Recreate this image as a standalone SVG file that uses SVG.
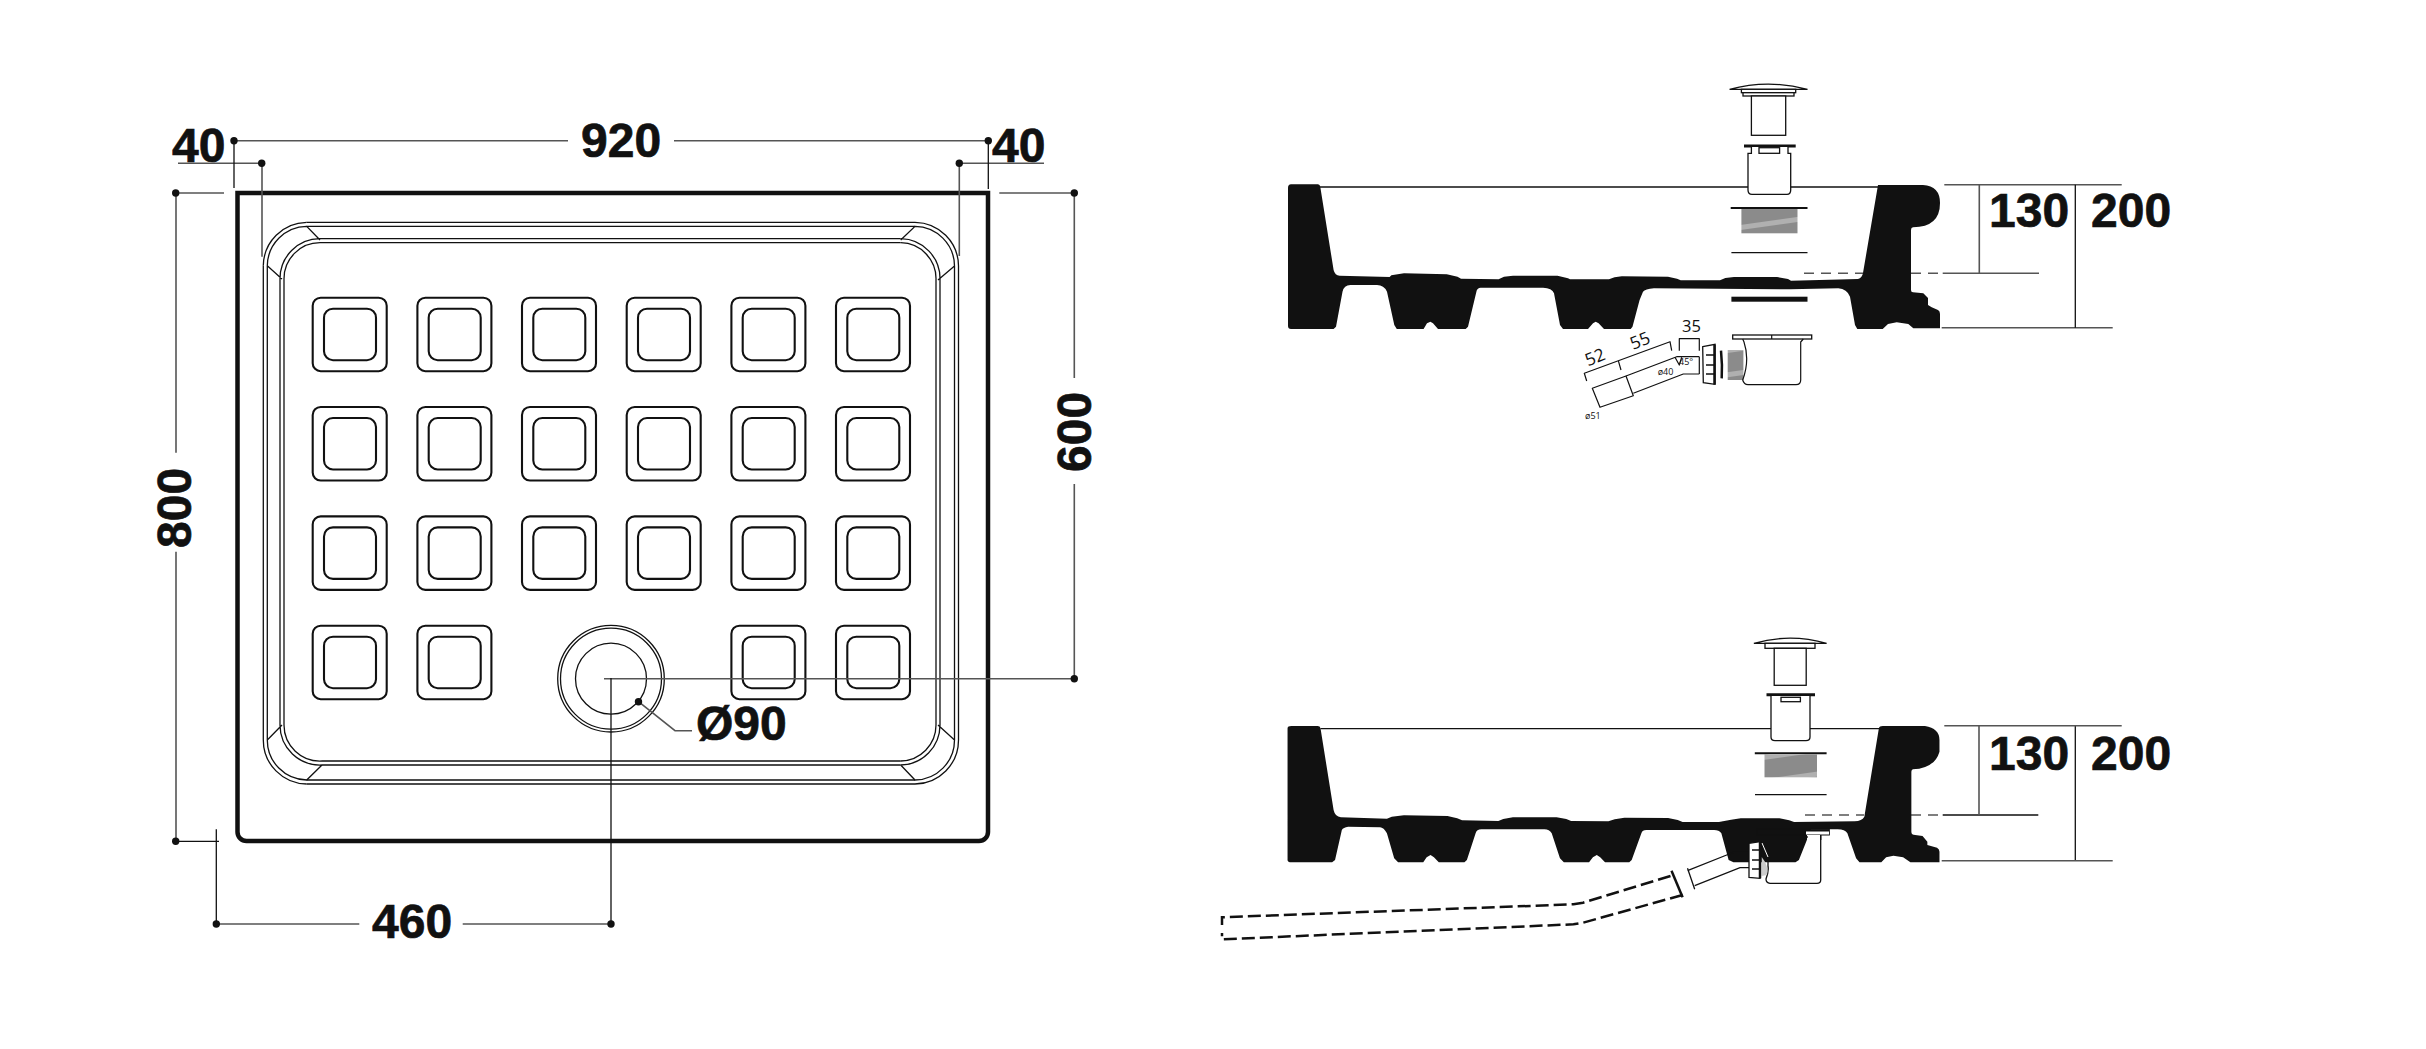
<svg xmlns="http://www.w3.org/2000/svg" width="2426" height="1049" viewBox="0 0 2426 1049">
<style>
.t{font-family:"Liberation Sans",Arial,sans-serif;font-weight:700;font-size:48px;fill:#111;stroke:#111;stroke-width:.7}
.s{font-family:"Open Sans","Liberation Sans",sans-serif;fill:#111}
.d{fill:none;stroke:#555;stroke-width:1.6}
.k{fill:none;stroke:#111;stroke-width:1.3}
.m{fill:none;stroke:#111;stroke-width:1.2;stroke-linejoin:round}
.w{fill:#fff;stroke:#111;stroke-width:1.3}
.b{fill:#111}
.h{fill:url(#hatch)}
.dash{fill:none;stroke:#111;stroke-width:2.5;stroke-dasharray:13 5}
.o{fill:none;stroke:#111;stroke-width:2.1}
.t3{stroke-width:3}
.t2{stroke-width:2}
.t25{stroke-width:2.500}
</style>
<defs>
<pattern id="hatch" width="46" height="24" patternUnits="userSpaceOnUse" patternTransform="rotate(-8)">
<rect width="46" height="24" fill="#8b8b8b"/><rect y="9" width="46" height="5" fill="#b0b0b0"/>
</pattern>
<g id="cell"><rect class="o" x="0" y="0" width="74" height="73.5" rx="8"/><rect class="o" x="11.3" y="11" width="52" height="51.500" rx="9"/></g>
<circle id="dot" r="3.700" fill="#111"/>
</defs>

<g id="plan">
<path d="M237.500 193H988V832a9 9 0 0 1-9 9H246.500a9 9 0 0 1-9-9Z" fill="none" stroke="#111" stroke-width="4.500"/>
<g id="channel">
<path class="k" d="M306.700 222.300H915M306.700 226.300H915M320 238.700H900.700M320 242.700H900.700"/>
<path class="k" d="M263.300 265.700V740M267.300 265.700V740M280 279V725M284 279V725"/>
<path class="k" d="M958.500 266V740M954.500 266V740M940 280V725M936 280V725"/>
<path class="k" d="M306.700 780H915M306.700 784H915M322 761H900.700M322 765H900.700"/>
<path class="k" d="M263.300 265.700A44 44 0 0 1 306.700 222.300M267.300 265.700A40 40 0 0 1 306.700 226.300L320 240M280 279A40 40 0 0 1 320 238.700M284 279A36 36 0 0 1 320 242.700M267.300 265.700L282 279"/>
<path class="k" d="M958.500 266A44 44 0 0 0 915 222.300M954.500 266A40 40 0 0 0 915 226.300L900.700 240M940 280A40 40 0 0 0 900.700 238.700M936 280A36 36 0 0 0 900.700 242.700M954.500 266L938 280"/>
<path class="k" d="M263.300 740A44 44 0 0 0 306.700 784M267.300 740A40 40 0 0 0 306.700 780L322 765M280 725A40 40 0 0 0 322 765M284 725A36 36 0 0 0 322 761M267.300 740L282 725"/>
<path class="k" d="M958.500 740A44 44 0 0 1 915 784M954.500 740A40 40 0 0 1 915 780L900.700 765M940 725A40 40 0 0 1 900.700 765M936 725A36 36 0 0 1 900.700 761M954.500 740L938 725"/>
</g>
<g id="cells">
<use href="#cell" x="312.700" y="297.700"/><use href="#cell" x="417.400" y="297.700"/><use href="#cell" x="522" y="297.700"/><use href="#cell" x="626.700" y="297.700"/><use href="#cell" x="731.400" y="297.700"/><use href="#cell" x="836" y="297.700"/>
<use href="#cell" x="312.700" y="407"/><use href="#cell" x="417.400" y="407"/><use href="#cell" x="522" y="407"/><use href="#cell" x="626.700" y="407"/><use href="#cell" x="731.400" y="407"/><use href="#cell" x="836" y="407"/>
<use href="#cell" x="312.700" y="516.400"/><use href="#cell" x="417.400" y="516.400"/><use href="#cell" x="522" y="516.400"/><use href="#cell" x="626.700" y="516.400"/><use href="#cell" x="731.400" y="516.400"/><use href="#cell" x="836" y="516.400"/>
<use href="#cell" x="312.700" y="625.700"/><use href="#cell" x="417.400" y="625.700"/><use href="#cell" x="731.400" y="625.700"/><use href="#cell" x="836" y="625.700"/>
</g>
<g id="drain"><circle class="k" cx="611" cy="678.700" r="53.300"/><circle class="k" cx="611" cy="678.700" r="50.500"/><circle class="k" cx="611" cy="678.700" r="35.500"/></g>
</g>

<g id="connectors">
<path class="d" d="M234 140.700H568M674 140.700H988.300M178 163.300H262M262 163.300V256.700M176 193H224M176 193V452.700M176 551.700V841.300M999.300 193H1074.300M959.300 163.300V256M959.300 163.300H1044M216.300 924H359.300M462.700 924H611M604 678.700H1074.300M1074.300 193V378M1074.300 484V678.700M638.500 701.700L675 730.700H692"/>
<path class="k" d="M234 141V188M988.300 141V189M176 841.300H219M216.300 829.300V924M611 678V924"/>
<use href="#dot" x="234" y="140.700"/><use href="#dot" x="261.700" y="163.300"/><use href="#dot" x="959.300" y="163.300"/><use href="#dot" x="988.300" y="140.700"/><use href="#dot" x="175.700" y="193"/><use href="#dot" x="175.700" y="841.300"/><use href="#dot" x="216.300" y="924"/><use href="#dot" x="611" y="924"/><use href="#dot" x="1074.300" y="678.700"/><use href="#dot" x="1074.300" y="193"/><use href="#dot" x="638.500" y="701.700"/>
<path class="d" d="M1944.300 184.700H2121.700M1979.300 184.700V273.300M1941.700 327.700H2112.700M1942.700 273.300H2039"/>
<path class="k" d="M2075.300 184.700V327.700M2075.300 725.700V860.700M1942.700 815H2038.300"/>
<path class="d" d="M1944.300 725.700H2121.700M1979 725.700V815M1941.700 860.700H2112.700"/>
<path class="d" d="M1804 273.300H1863M1911 273.300H1942M1805 815H1864M1911 815H1942" stroke-dasharray="10 7"/>
</g>

<g id="labels">
<text class="t" x="172" y="162">40</text><text class="t" x="581" y="157">920</text><text class="t" x="992" y="162">40</text>
<text class="t" transform="translate(191,548) rotate(-90)">800</text><text class="t" transform="translate(1091,472) rotate(-90)">600</text>
<text class="t" x="372" y="937.500">460</text><text class="t" x="696" y="740">Ø90</text>
<text class="t" x="1989" y="227">130</text><text class="t" x="2091" y="227">200</text><text class="t" x="1989" y="769.500">130</text><text class="t" x="2091" y="769.500">200</text>
</g>

<g id="section-upper">
<path class="b" d="M1288 188Q1288 184.300 1291 184.300H1318Q1320 184.300 1320.300 187L1333.600 270Q1335 275.700 1339.600 275.700L1389.600 277L1391.400 275.300L1404 273.300L1446.800 274.300L1457.500 276.700L1461 278.700L1498.600 279.300L1504 276.700L1513 275.700H1557.500L1568 278.300L1570 279.300H1609L1614.600 277.300L1621.800 276.300L1668 276.700L1677 278.700L1680.700 280.300H1720L1725.400 278L1734 277H1777L1788 279L1791 280.700L1858 279Q1862 278 1863 273L1878 185H1923Q1940 186 1940 203Q1940 227 1913 227.300Q1911 227.500 1911 230V290Q1911 292.300 1913 292.300L1923.300 293.300L1928 298V305L1931.700 307.300L1938 310Q1940 311 1940 314V328.300H1913.300L1908.300 324L1896.700 322.300L1888 324L1882.700 329H1857.300L1855 325L1850 296.700Q1847 289 1838.300 288.300L1790 289.300L1654 288.300Q1645 289 1643 291.700L1639.600 300L1632.500 326.700L1630.700 329H1604L1598.600 323.300L1595.700 321.700L1593 323.300L1588 329H1563L1560 325L1554 293.300Q1552 288 1543 287.700H1480.700Q1477 288 1476.400 291.700L1468 326.700L1465.700 329H1438L1433 323.300L1430.400 321.700L1427 323.300L1423.600 329H1396.800L1394.300 325L1387 291.700Q1384 285 1377 285H1350.400Q1344 285 1342.500 291.700L1336 326.700L1333.600 329H1291Q1288 329 1288 326Z"/>
<path class="k" d="M1320 187H1878"/>
<g id="drain-upper">
<path class="w" d="M1729.600 89.300Q1768 79 1807.500 89.300Z"/>
<rect class="w" x="1741.400" y="89.300" width="54.300" height="3.400"/><rect class="w" x="1743" y="92.700" width="51" height="3.300"/>
<rect class="w" x="1751.400" y="96" width="34.300" height="39.300"/>
<path class="k t3" d="M1744 146H1795.700"/>
<path class="w" d="M1751.400 147V153.300H1748V190Q1748 194.300 1752 194.300H1787Q1790.700 194.300 1790.700 190V153.300H1788V147"/>
<rect class="w" x="1759" y="147.700" width="20.600" height="5.600"/>
<path class="k t2" d="M1730.700 208H1807.500"/>
<rect class="h" x="1741.400" y="209" width="56.100" height="24.300"/>
<path class="k" d="M1731.400 252.700H1807.500"/>
<rect class="b" x="1731.400" y="296.700" width="76.100" height="5"/>
<g id="exploded">
<path class="m" d="M1679.300 350.700V338.700H1699.300V350.700"/>
<path class="m" d="M1586.700 381L1584.300 373.300L1618.300 360.700L1670 341.700L1671.700 350.700M1618.300 360.700L1621 370"/>
<path class="m" d="M1626 376L1676.700 356.700H1699.300M1633.300 393.300L1683.300 374H1699.300M1699.300 356.700V374"/>
<path class="m" d="M1592.300 388.300L1626 376L1633.300 395.700L1600 407.300Z"/>
<path class="m" d="M1675 357.300L1679.300 365L1681.700 357.300"/>
<path class="w" d="M1702.700 346.700L1715 344.300V384.300L1703.300 382.700Z"/>
<path class="k" d="M1706 355H1714M1706 365H1714M1706 374H1714"/><path class="k t25" d="M1714.500 344.500V384.500"/>
<path class="m t25" d="M1721 350.700Q1722.500 365 1721.700 378.300"/>
<rect class="h" x="1727.700" y="350" width="15.700" height="30"/>
<rect class="w" x="1732.700" y="335" width="79" height="4"/>
<path class="m" d="M1742.700 339L1744 342Q1750 360 1742.700 380Q1744 384.700 1748 384.700H1796Q1800.700 384.700 1800.700 380V342L1803.300 339M1771.700 335V339"/>
</g>
</g>
<text class="s" font-size="16.500" x="1682" y="332">35</text>
<text class="s" font-size="17.500" text-anchor="middle" y="6" transform="translate(1595,357.300) rotate(-22)">52</text>
<text class="s" font-size="17.500" text-anchor="middle" y="6" transform="translate(1640,340.700) rotate(-22)">55</text>
<text class="s" font-size="9" x="1657.700" y="375">ø40</text><text class="s" font-size="9" x="1585" y="419.300">ø51</text>
<text class="s" font-size="9" x="1679" y="365">45°</text>
</g>

<g id="section-lower">
<path class="k" d="M1807 836H1820.700V880Q1820.700 883.300 1817 883.300H1770Q1766 883 1766 879Q1769 871 1768 866L1768 856.700"/>
<path class="b" transform="translate(1210,620) scale(.4847,.3333)" d="M160 325Q160 318 168 318H222Q227 318 228 325L255 570Q258 590 270 592L365 596L375 590L400 586L490 588L510 595L520 601L595 603L605 597L625 592H715L735 597L745 603L822 604L835 598L855 593L945 594L965 600L975 606H1050L1075 599L1095 595H1175L1195 601L1205 606L1330 604Q1345 603 1350 590L1380 325Q1381 318 1388 318H1475Q1505 325 1505 360V395Q1495 445 1450 448Q1447 450 1447 455V635Q1447 645 1455 645L1470 648L1480 665V675L1500 683Q1505 688 1505 695V727H1445L1430 712L1410 707L1395 712L1385 727H1340L1333 715L1315 640Q1310 628 1295 628H1240L1230 665L1215 720L1208 727H1080L1070 720L1055 640Q1050 630 1040 630H900Q892 630 890 640L870 720L865 727H815L805 712L798 705L790 712L782 727H730L722 715L705 640Q700 628 690 628H560Q550 628 548 640L530 720L525 727H472L462 712L455 705L447 712L440 727H388L380 715L365 640Q358 621 350 622L285 620Q275 622 272 630L258 720L252 727H168Q160 727 160 720Z"/>
<path class="k" d="M1320.500 728.700H1879"/>
<g id="drain-lower">
<path class="w" d="M1753.900 643.300Q1790 633 1826.600 643.300Z"/>
<rect class="w" x="1765" y="643.300" width="50" height="5"/><rect class="w" x="1774.200" y="648.300" width="32" height="37"/>
<path class="k t3" d="M1766.500 694.700H1815"/>
<path class="w" d="M1771 696V737Q1771 740.700 1775 740.700H1806Q1810 740.700 1810 737V696"/>
<rect class="w" x="1781" y="697.300" width="19.400" height="4.400"/>
<path class="k t2" d="M1754.800 753.300H1826.600"/>
<rect class="h" x="1764.500" y="754.300" width="52.500" height="23"/>
<path class="k" d="M1755 794.700H1826.600"/>
<rect x="1756.700" y="829.300" width="72.600" height="5.700" fill="#111" stroke="#111"/><rect x="1806" y="831.500" width="23" height="3" fill="#fff"/>
<path d="M1807 835H1820V840H1807Z" fill="#fff"/>
<path class="k" d="M1807 836V838M1820.700 835V840"/>
<path d="M1762 843L1768 857" fill="none" stroke="#fff" stroke-width="1"/>
<path d="M1761.700 857Q1769 866 1767 875L1761.700 876Z" fill="#ccc"/>
<path class="w" d="M1749 843.300L1760 841.700V878.300L1749 877.300Z"/>
<path class="k" d="M1752 850H1760M1752 860H1760M1752 869H1760"/><path class="k t25" d="M1760 841.700V878.300"/>
<path class="k" d="M1748.300 852.300H1733.300L1726.700 855L1687.500 870.700M1749 867.700H1740L1694.700 885.700M1687.500 868.300L1694.700 889.300"/>
<path class="m t25" d="M1671.500 870.700L1682.600 897.300"/>
<path class="dash" d="M1670.500 876L1583 902.700L1573.500 904.300L1222 917.300V925M1682.600 895L1583 922.700L1573.500 924.300L1222 939.300V933"/>
</g>
</g>
</svg>
